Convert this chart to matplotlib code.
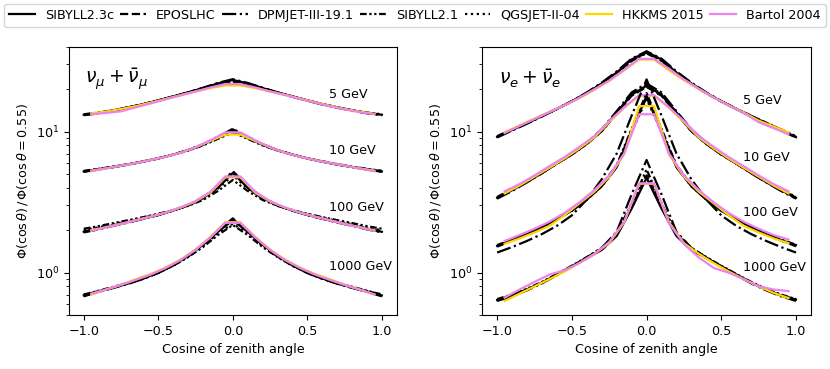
import numpy as np
import matplotlib
matplotlib.use("Agg")
import matplotlib.pyplot as plt
from matplotlib.lines import Line2D

plt.rcParams["font.size"] = 9.2

# cosine grids: model curves (MCEq) and HKKMS/Bartol bin centres
cos_model = np.linspace(-1.0, 1.0, 21)
cos_bins = np.linspace(-0.95, 0.95, 20)

energies = ["5 GeV", "10 GeV", "100 GeV", "1000 GeV"]

# ---- nu_mu + anti-nu_mu (one list per energy: 5, 10, 100, 1000 GeV) ----
numu_sib23c = [
    [13.2, 13.6, 14.2, 14.9, 15.7, 16.7, 17.8, 19.0, 20.4, 22.0, 23.3, 22.0, 20.4, 19.0, 17.8, 16.7, 15.7, 14.9, 14.2, 13.6, 13.2],
    [5.23, 5.42, 5.63, 5.87, 6.15, 6.47, 6.88, 7.40, 8.10, 9.10, 10.3, 9.10, 8.10, 7.40, 6.88, 6.47, 6.15, 5.87, 5.63, 5.42, 5.23],
    [1.95, 2.05, 2.17, 2.29, 2.42, 2.57, 2.76, 3.00, 3.38, 4.00, 5.10, 4.00, 3.38, 3.00, 2.76, 2.57, 2.42, 2.29, 2.17, 2.05, 1.95],
    [0.69, 0.735, 0.785, 0.84, 0.91, 1.00, 1.13, 1.32, 1.58, 1.95, 2.35, 1.95, 1.58, 1.32, 1.13, 1.00, 0.91, 0.84, 0.785, 0.735, 0.69],
]
numu_epos = [
    [13.2, 13.6, 14.2, 14.9, 15.7, 16.7, 17.8, 19.0, 20.4, 21.9, 23.1, 21.9, 20.4, 19.0, 17.8, 16.7, 15.7, 14.9, 14.2, 13.6, 13.2],
    [5.22, 5.41, 5.62, 5.86, 6.14, 6.46, 6.87, 7.40, 8.10, 9.10, 10.4, 9.10, 8.10, 7.40, 6.87, 6.46, 6.14, 5.86, 5.62, 5.41, 5.22],
    [1.96, 2.06, 2.17, 2.29, 2.42, 2.57, 2.76, 3.00, 3.40, 4.05, 5.20, 4.05, 3.40, 3.00, 2.76, 2.57, 2.42, 2.29, 2.17, 2.06, 1.96],
    [0.69, 0.735, 0.785, 0.84, 0.91, 1.00, 1.13, 1.32, 1.58, 1.97, 2.43, 1.97, 1.58, 1.32, 1.13, 1.00, 0.91, 0.84, 0.785, 0.735, 0.69],
]
numu_dpmjet = [
    [13.1, 13.5, 14.1, 14.8, 15.6, 16.6, 17.7, 19.0, 20.5, 22.2, 23.6, 22.2, 20.5, 19.0, 17.7, 16.6, 15.6, 14.8, 14.1, 13.5, 13.1],
    [5.20, 5.40, 5.61, 5.85, 6.13, 6.46, 6.88, 7.42, 8.15, 9.20, 10.5, 9.20, 8.15, 7.42, 6.88, 6.46, 6.13, 5.85, 5.61, 5.40, 5.20],
    [1.93, 2.03, 2.15, 2.27, 2.41, 2.56, 2.76, 3.02, 3.42, 4.10, 5.25, 4.10, 3.42, 3.02, 2.76, 2.56, 2.41, 2.27, 2.15, 2.03, 1.93],
    [0.68, 0.73, 0.78, 0.835, 0.905, 0.995, 1.13, 1.32, 1.59, 1.98, 2.40, 1.98, 1.59, 1.32, 1.13, 0.995, 0.905, 0.835, 0.78, 0.73, 0.68],
]
numu_sib21 = [
    [13.3, 13.7, 14.2, 14.9, 15.7, 16.6, 17.7, 18.9, 20.2, 21.7, 22.7, 21.7, 20.2, 18.9, 17.7, 16.6, 15.7, 14.9, 14.2, 13.7, 13.3],
    [5.28, 5.46, 5.66, 5.90, 6.17, 6.48, 6.87, 7.35, 8.00, 8.90, 9.90, 8.90, 8.00, 7.35, 6.87, 6.48, 6.17, 5.90, 5.66, 5.46, 5.28],
    [2.05, 2.14, 2.25, 2.36, 2.48, 2.62, 2.78, 2.98, 3.28, 3.80, 4.55, 3.80, 3.28, 2.98, 2.78, 2.62, 2.48, 2.36, 2.25, 2.14, 2.05],
    [0.70, 0.745, 0.795, 0.85, 0.915, 1.00, 1.12, 1.29, 1.52, 1.85, 2.18, 1.85, 1.52, 1.29, 1.12, 1.00, 0.915, 0.85, 0.795, 0.745, 0.70],
]
numu_qgsjet = [
    [13.2, 13.6, 14.2, 14.9, 15.7, 16.7, 17.8, 19.0, 20.4, 21.9, 23.0, 21.9, 20.4, 19.0, 17.8, 16.7, 15.7, 14.9, 14.2, 13.6, 13.2],
    [5.24, 5.43, 5.64, 5.88, 6.16, 6.48, 6.88, 7.38, 8.05, 9.00, 10.1, 9.00, 8.05, 7.38, 6.88, 6.48, 6.16, 5.88, 5.64, 5.43, 5.24],
    [2.00, 2.10, 2.21, 2.33, 2.46, 2.60, 2.78, 3.00, 3.35, 3.95, 4.90, 3.95, 3.35, 3.00, 2.78, 2.60, 2.46, 2.33, 2.21, 2.10, 2.00],
    [0.70, 0.74, 0.79, 0.845, 0.91, 1.00, 1.12, 1.30, 1.55, 1.90, 2.22, 1.90, 1.55, 1.30, 1.12, 1.00, 0.91, 0.845, 0.79, 0.74, 0.70],
]
numu_hkkms = [
    [13.5, 13.9, 14.5, 15.2, 16.1, 17.1, 18.2, 19.3, 20.4, 21.3, 21.3, 20.4, 19.3, 18.3, 17.2, 16.2, 15.3, 14.5, 13.9, 13.4],
    [5.30, 5.50, 5.75, 6.00, 6.30, 6.65, 7.10, 7.75, 8.60, 9.55, 9.55, 8.60, 7.75, 7.10, 6.65, 6.30, 6.00, 5.75, 5.50, 5.30],
    [2.00, 2.10, 2.22, 2.36, 2.50, 2.67, 2.90, 3.20, 3.70, 4.75, 4.75, 3.70, 3.20, 2.90, 2.67, 2.50, 2.36, 2.22, 2.10, 2.00],
    [0.70, 0.76, 0.82, 0.90, 0.98, 1.09, 1.24, 1.46, 1.80, 2.28, 2.28, 1.80, 1.46, 1.24, 1.09, 0.98, 0.90, 0.82, 0.76, 0.70],
]
numu_bartol = [
    [13.3, 13.6, 13.95, 14.9, 15.9, 17.0, 18.1, 19.3, 20.6, 21.8, 21.8, 20.6, 19.3, 18.2, 17.1, 16.1, 15.2, 14.4, 13.8, 13.3],
    [5.25, 5.50, 5.75, 6.00, 6.30, 6.65, 7.10, 7.75, 8.70, 9.90, 9.90, 8.70, 7.75, 7.10, 6.65, 6.30, 6.00, 5.75, 5.48, 5.25],
    [1.98, 2.10, 2.22, 2.35, 2.50, 2.67, 2.90, 3.22, 3.75, 4.82, 4.82, 3.75, 3.22, 2.90, 2.67, 2.50, 2.35, 2.22, 2.10, 1.98],
    [0.71, 0.76, 0.82, 0.89, 0.97, 1.08, 1.23, 1.45, 1.78, 2.26, 2.26, 1.78, 1.45, 1.23, 1.08, 0.97, 0.89, 0.82, 0.76, 0.70],
]

# ---- nu_e + anti-nu_e ----
nue_sib23c = [
    [9.20, 10.3, 11.5, 12.9, 14.5, 16.4, 18.8, 22.0, 26.3, 32.5, 37.0, 32.5, 26.3, 22.0, 18.8, 16.4, 14.5, 12.9, 11.5, 10.3, 9.15],
    [3.40, 3.85, 4.40, 5.10, 5.95, 6.90, 8.20, 10.1, 13.6, 18.3, 21.2, 18.3, 13.6, 10.1, 8.20, 6.90, 5.95, 5.10, 4.40, 3.85, 3.40],
    [1.55, 1.70, 1.88, 2.10, 2.40, 2.75, 3.30, 4.10, 5.60, 10.0, 18.0, 10.0, 5.60, 4.10, 3.30, 2.75, 2.40, 2.10, 1.88, 1.70, 1.57],
    [0.64, 0.69, 0.76, 0.85, 0.97, 1.11, 1.27, 1.45, 1.82, 2.85, 4.70, 2.85, 1.82, 1.45, 1.27, 1.11, 0.97, 0.85, 0.76, 0.69, 0.645],
]
nue_epos = [
    [9.25, 10.35, 11.55, 12.95, 14.5, 16.4, 18.7, 21.8, 26.0, 32.0, 36.5, 32.0, 26.0, 21.8, 18.7, 16.4, 14.5, 12.95, 11.55, 10.35, 9.2],
    [3.42, 3.87, 4.42, 5.10, 5.95, 6.90, 8.20, 10.1, 13.5, 18.0, 20.8, 18.0, 13.5, 10.1, 8.20, 6.90, 5.95, 5.10, 4.42, 3.87, 3.42],
    [1.53, 1.69, 1.87, 2.09, 2.39, 2.75, 3.30, 4.15, 5.70, 10.2, 17.5, 10.2, 5.70, 4.15, 3.30, 2.75, 2.39, 2.09, 1.87, 1.69, 1.54],
    [0.64, 0.69, 0.76, 0.85, 0.97, 1.11, 1.27, 1.46, 1.85, 2.90, 4.90, 2.90, 1.85, 1.46, 1.27, 1.11, 0.97, 0.85, 0.76, 0.69, 0.64],
]
nue_dpmjet = [
    [9.10, 10.2, 11.4, 12.85, 14.5, 16.5, 19.0, 22.3, 26.8, 33.0, 37.2, 33.0, 26.8, 22.3, 19.0, 16.5, 14.5, 12.85, 11.4, 10.2, 9.10],
    [3.35, 3.80, 4.38, 5.08, 5.95, 6.95, 8.35, 10.4, 14.0, 19.0, 22.0, 19.0, 14.0, 10.4, 8.35, 6.95, 5.95, 5.08, 4.38, 3.80, 3.35],
    [1.39, 1.52, 1.68, 1.88, 2.15, 2.55, 3.30, 4.60, 7.00, 13.0, 23.5, 13.0, 7.00, 4.60, 3.30, 2.55, 2.15, 1.88, 1.68, 1.52, 1.39],
    [0.63, 0.68, 0.75, 0.84, 0.96, 1.10, 1.28, 1.50, 1.95, 3.60, 6.30, 3.60, 1.95, 1.50, 1.28, 1.10, 0.96, 0.84, 0.75, 0.68, 0.63],
]
nue_sib21 = [
    [9.30, 10.4, 11.6, 13.0, 14.6, 16.5, 18.8, 21.9, 26.0, 31.8, 36.0, 31.8, 26.0, 21.9, 18.8, 16.5, 14.6, 13.0, 11.6, 10.4, 9.30],
    [3.45, 3.90, 4.45, 5.15, 6.00, 6.95, 8.25, 10.2, 13.7, 18.5, 21.6, 18.5, 13.7, 10.2, 8.25, 6.95, 6.00, 5.15, 4.45, 3.90, 3.45],
    [1.57, 1.72, 1.90, 2.12, 2.42, 2.78, 3.35, 4.20, 5.80, 10.5, 18.8, 10.5, 5.80, 4.20, 3.35, 2.78, 2.42, 2.12, 1.90, 1.72, 1.58],
    [0.65, 0.70, 0.77, 0.86, 0.98, 1.12, 1.29, 1.50, 1.90, 3.10, 5.40, 3.10, 1.90, 1.50, 1.29, 1.12, 0.98, 0.86, 0.77, 0.70, 0.65],
]
nue_qgsjet = [
    [9.20, 10.3, 11.5, 12.9, 14.5, 16.4, 18.8, 21.9, 26.2, 32.2, 36.6, 32.2, 26.2, 21.9, 18.8, 16.4, 14.5, 12.9, 11.5, 10.3, 9.20],
    [3.38, 3.83, 4.40, 5.10, 5.95, 6.90, 8.20, 10.1, 13.5, 18.1, 20.9, 18.1, 13.5, 10.1, 8.20, 6.90, 5.95, 5.10, 4.40, 3.83, 3.38],
    [1.55, 1.70, 1.88, 2.10, 2.40, 2.76, 3.30, 4.10, 5.65, 10.0, 17.0, 10.0, 5.65, 4.10, 3.30, 2.76, 2.40, 2.10, 1.88, 1.70, 1.56],
    [0.64, 0.69, 0.76, 0.85, 0.97, 1.11, 1.28, 1.48, 1.88, 3.00, 5.00, 3.00, 1.88, 1.48, 1.28, 1.11, 0.97, 0.85, 0.76, 0.69, 0.64],
]
nue_hkkms = [
    [9.9, 11.1, 12.4, 13.8, 15.4, 17.3, 19.8, 23.0, 27.3, 32.5, 32.5, 27.3, 23.2, 20.0, 17.5, 15.4, 13.7, 12.0, 10.9, 9.9],
    [3.65, 4.15, 4.80, 5.55, 6.45, 7.60, 9.10, 11.7, 14.8, 18.0, 18.0, 14.8, 11.7, 9.10, 7.60, 6.45, 5.55, 4.80, 4.15, 3.65],
    [1.60, 1.75, 1.93, 2.15, 2.55, 3.10, 3.75, 4.80, 6.90, 15.2, 15.2, 6.90, 4.80, 3.75, 3.10, 2.55, 2.15, 1.93, 1.75, 1.62],
    [0.63, 0.71, 0.80, 0.90, 1.02, 1.17, 1.36, 1.62, 2.28, 4.28, 4.28, 2.28, 1.62, 1.36, 1.17, 1.02, 0.90, 0.80, 0.72, 0.66],
]
nue_bartol = [
    [9.8, 11.0, 12.3, 13.8, 15.4, 17.4, 20.0, 23.0, 27.5, 32.9, 32.9, 28.0, 23.5, 20.2, 17.5, 15.3, 13.6, 11.7, 10.6, 9.6],
    [3.78, 4.25, 4.90, 5.70, 6.60, 7.80, 9.30, 11.9, 14.9, 18.2, 18.2, 14.9, 11.9, 9.30, 7.80, 6.60, 5.70, 4.90, 4.25, 3.78],
    [1.68, 1.85, 2.05, 2.30, 2.65, 3.15, 3.85, 4.90, 7.00, 13.3, 13.3, 7.00, 4.90, 3.85, 3.15, 2.65, 2.30, 2.05, 1.85, 1.72],
    [0.665, 0.76, 0.86, 0.97, 1.04, 1.17, 1.35, 1.65, 2.30, 4.30, 4.30, 2.25, 1.60, 1.28, 1.08, 1.00, 0.90, 0.80, 0.76, 0.74],
]

# label positions (data coords) for energy tags
numu_label_y = [18.5, 7.36, 2.9, 1.1]
nue_label_y = [16.7, 6.54, 2.66, 1.08]

model_names = ["SIBYLL2.3c", "EPOSLHC", "DPMJET-III-19.1", "SIBYLL2.1", "QGSJET-II-04"]
model_styles = ["-", "--", "-.", (0, (3, 1.2, 1, 1.2, 1, 1.2)), ":"]

fig = plt.figure(figsize=(8.3, 3.69), dpi=100)
ax1 = fig.add_axes([0.083, 0.146, 0.395, 0.727])
ax2 = fig.add_axes([0.581, 0.146, 0.396, 0.727])

panels = [
    (ax1, [numu_sib23c, numu_epos, numu_dpmjet, numu_sib21, numu_qgsjet],
     numu_hkkms, numu_bartol, numu_label_y, r"$\nu_\mu + \bar{\nu}_\mu$"),
    (ax2, [nue_sib23c, nue_epos, nue_dpmjet, nue_sib21, nue_qgsjet],
     nue_hkkms, nue_bartol, nue_label_y, r"$\nu_e + \bar{\nu}_e$"),
]

for ax, models, hkkms, bartol, label_y, title in panels:
    for i in range(len(energies)):
        for m, ls in zip(models, model_styles):
            ax.plot(cos_model, m[i], color="black", ls=ls, lw=1.6)
        ax.plot(cos_bins, hkkms[i], color="gold", lw=1.6)
        ax.plot(cos_bins, bartol[i], color="violet", lw=1.6)
        ax.text(0.645, label_y[i], energies[i], ha="left", va="center")
    ax.set_yscale("log")
    ax.set_ylim(0.5, 40)
    ax.set_xlim(-1.1, 1.1)
    ax.set_xticks([-1.0, -0.5, 0.0, 0.5, 1.0])
    ax.set_xlabel("Cosine of zenith angle")
    ax.set_ylabel(r"$\Phi(\cos\theta)\,/\,\Phi(\cos\theta=0.55)$")
    ax.text(0.05, 0.88, title, transform=ax.transAxes, fontsize=13.5,
            ha="left", va="center")

handles = [Line2D([], [], color="black", ls=ls, lw=1.6) for ls in model_styles]
handles += [Line2D([], [], color="gold", lw=1.6), Line2D([], [], color="violet", lw=1.6)]
labels = model_names + ["HKKMS 2015", "Bartol 2004"]
fig.legend(handles, labels, loc="upper center", bbox_to_anchor=(0.5, 1.0),
           ncol=7, columnspacing=0.5, handletextpad=0.8, handlelength=2.0,
           borderaxespad=0.3)

fig.savefig("out.png", dpi=100)
